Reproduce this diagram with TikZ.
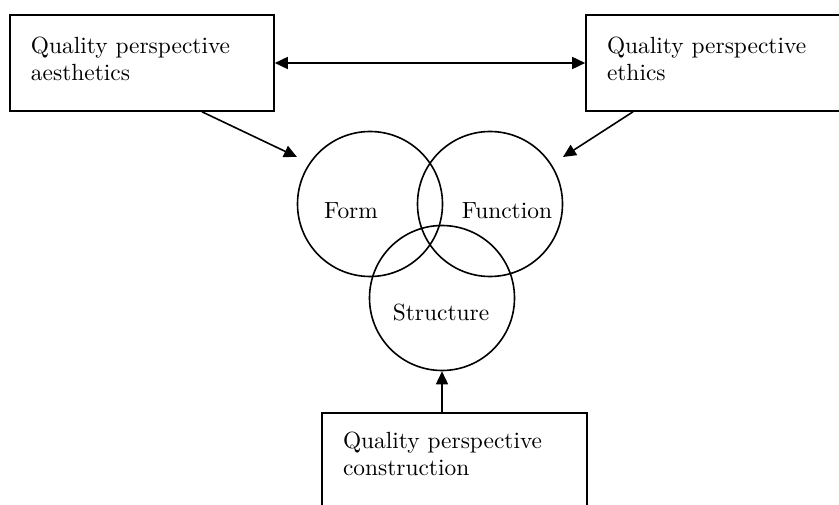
\documentclass[tikz,border=0pt]{standalone}
\usepackage{fontspec}
\setmainfont{lmroman10-regular}[Extension=.otf]
\usetikzlibrary{arrows.meta}
\begin{document}
\begin{tikzpicture}[x=1bp,y=-1bp,
  line width=1.6bp,
  boxshape/.style={draw, rectangle, inner sep=0pt, minimum width=264bp, minimum height=96bp},
  boxtext/.style={anchor=north west, inner sep=0pt, align=left,
    font=\fontsize{23.4bp}{27bp}\selectfont},
  ring/.style={draw, circle, inner sep=0pt, minimum size=145bp},
  ringtext/.style={anchor=base, inner sep=0pt, font=\fontsize{23.4bp}{27bp}\selectfont},
  tip/.style={-{Triangle[length=13bp,width=12bp]}},
  tips/.style={{Triangle[length=13bp,width=12bp]}-{Triangle[length=13bp,width=12bp]}}
]
\useasboundingbox (0,0) rectangle (839,505);
\clip (0,0) rectangle (839,505);

% perspective boxes
\node[boxshape] (aes) at (142,63) {};
\node[boxtext] (aestext) at ([xshift=21bp,yshift=-22bp]aes.north west) {Quality perspective\\aesthetics};

\node[boxshape] (eth) at (718,63) {};
\node[boxtext] (ethtext) at ([xshift=21bp,yshift=-22bp]eth.north west) {Quality perspective\\ethics};

\node[boxshape, minimum width=265bp] (con) at (454.5,461) {};
\node[boxtext] (context) at ([xshift=21bp,yshift=-19.5bp]con.north west) {Quality perspective\\construction};

% the three overlapping circles
\node[ring] (form) at (370,204) {};
\node[ring] (func) at (490,204) {};
\node[ring] (struc) at (442,298) {};

\node[ringtext] (formtext) at (351,219) {Form};
\node[ringtext] (functext) at (507,219) {Function};
\node[ringtext] (structext) at (441,321) {Structure};

% connectors
\coordinate (aesend) at (297,157);
\coordinate (ethend) at (563,157);

\draw[tips] (aes.east) -- (eth.west);
\draw[tip] ([xshift=60bp]aes.south) -- (aesend);
\draw[tip] ([xshift=-85bp]eth.south) -- (ethend);
\draw[tip] (con.north -| struc.south) -- (struc.south);
\end{tikzpicture}
\end{document}
